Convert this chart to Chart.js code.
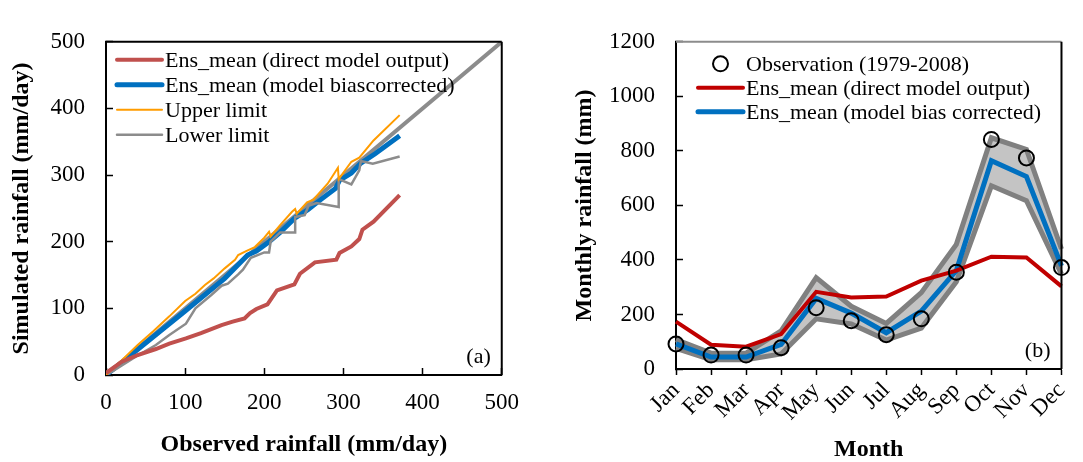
<!DOCTYPE html>
<html>
<head>
<meta charset="utf-8">
<script src="https://cdn.jsdelivr.net/npm/chart.js@4/dist/chart.umd.min.js"></script>
<style>
  html, body { margin: 0; padding: 0; background: #fff; }
  .panel { position: absolute; top: 0; height: 462px; }
</style>
</head>
<body>
<div class="panel" style="left:0;width:540px"><canvas id="qq" width="540" height="462"></canvas></div>
<div class="panel" style="left:540px;width:543px"><canvas id="monthly" width="543" height="462"></canvas></div>
<script>
// (a) quantiles, observed vs simulated (mm/day)
const redObs = [0, 20, 40, 63, 80, 101, 120, 146, 160, 175, 182, 190, 204, 216, 238, 245, 264, 291, 295, 310, 320, 324, 338, 371];
const redSim = [3, 20, 30, 39, 47, 55, 63, 75, 80, 85, 93, 99, 106, 127, 136, 152, 169, 173, 183, 193, 204, 218, 230, 270];
const blueObs = [0, 20, 50, 100, 150, 179, 190, 206, 220, 238, 255, 270, 290, 295, 310, 322, 340, 371];
const blueSim = [0, 19, 48, 96, 145, 180, 186, 200, 214, 235, 248, 262, 280, 292, 303, 318, 332, 359];
const upObs = [0, 10, 20, 40, 60, 80, 100, 113, 125, 136, 150, 163, 167, 177, 188, 200, 206, 208, 220, 235, 239, 241, 254, 262, 280, 293, 294, 310, 320, 338, 371];
const upSim = [0, 12, 22, 45, 66, 88, 111, 122, 135, 145, 160, 173, 180, 186, 192, 206, 215, 208, 225, 245, 249, 242, 259, 263, 287, 311, 294, 320, 326, 352, 390];
const lowObs = [0, 10, 34, 63, 80, 101, 113, 133, 146, 154, 167, 173, 183, 200, 206, 208, 220, 239, 239, 251, 256, 266, 294, 294, 310, 320, 322, 337, 371];
const lowSim = [0, 7, 25, 45, 60, 77, 100, 120, 134, 137, 151, 158, 176, 184, 184, 200, 214, 214, 237, 240, 254, 258, 252, 294, 286, 307, 321, 317, 328];
const oneToOne = [0, 500];
const qqTicks = [0, 100, 200, 300, 400, 500];

// (b) monthly rainfall (mm)
const months = ["Jan", "Feb", "Mar", "Apr", "May", "Jun", "Jul", "Aug", "Sep", "Oct", "Nov", "Dec"];
const observed = [92, 51, 51, 78, 225, 177, 126, 184, 355, 842, 774, 372];
const ensDirect = [174, 89, 82, 128, 283, 262, 266, 324, 361, 412, 409, 303];
const ensCorrected = [92, 44, 44, 90, 259, 205, 133, 212, 361, 764, 706, 378];
const bandUpper = [108, 58, 58, 140, 335, 230, 167, 280, 457, 848, 805, 440];
const bandLower = [76, 34, 34, 55, 184, 165, 106, 150, 320, 672, 617, 348];
const monthlyTicks = [0, 200, 400, 600, 800, 1000, 1200];

const serif = "'Liberation Serif', 'Times New Roman', serif";
Chart.defaults.font.family = serif;
Chart.defaults.color = "#000";

const pts = (xs, ys) => xs.map((x, i) => ({ x: x, y: ys[i] }));
const plain = (v) => String(v); // no thousands separator

// draws the frame, the in-plot legend and the panel tag
const panelDecor = {
  id: "panelDecor",
  afterDraw(chart, args, o) {
    const { ctx, chartArea: a } = chart;
    ctx.save();
    ctx.lineWidth = 2;
    ctx.strokeStyle = o.topColor;
    ctx.beginPath();
    ctx.moveTo(a.left, a.top);
    ctx.lineTo(a.right, a.top);
    ctx.stroke();
    ctx.strokeStyle = "#000";
    ctx.beginPath();
    ctx.moveTo(a.right, a.top);
    ctx.lineTo(a.right, a.bottom);
    ctx.stroke();

    ctx.font = "22px " + serif;
    ctx.textBaseline = "middle";
    ctx.textAlign = "left";
    ctx.fillStyle = "#000";
    let row = 0;
    chart.data.datasets.forEach((ds) => {
      if (!ds.label) return;
      const y = a.top + o.y0 + row * o.rowH;
      const x0 = a.left + o.x0;
      if (ds.showLine === false) {
        ctx.lineWidth = ds.pointBorderWidth;
        ctx.strokeStyle = ds.pointBorderColor;
        ctx.beginPath();
        ctx.arc(x0 + o.swatch / 2, y, ds.pointRadius, 0, Math.PI * 2);
        ctx.stroke();
      } else {
        ctx.lineWidth = ds.borderWidth;
        ctx.strokeStyle = ds.borderColor;
        ctx.lineCap = "round";
        ctx.beginPath();
        ctx.moveTo(x0, y);
        ctx.lineTo(x0 + o.swatch, y);
        ctx.stroke();
      }
      ctx.fillText(ds.label, x0 + o.swatch + o.gap, y + 1);
      row++;
    });

    ctx.textAlign = "right";
    ctx.fillText(o.tag, a.right - 11, a.bottom - 18);
    ctx.restore();
  },
};

const tickFont = { size: 23 };
const titleFont = { size: 24, weight: "bold", lineHeight: 1 };

new Chart(document.getElementById("qq"), {
  type: "scatter",
  plugins: [panelDecor],
  data: {
    datasets: [
      {
        label: "Ens_mean (direct model output)",
        data: pts(redObs, redSim),
        showLine: true,
        borderColor: "#c0504d",
        borderWidth: 4,
        pointRadius: 0,
        order: 0,
      },
      {
        label: "Ens_mean (model biascorrected)",
        data: pts(blueObs, blueSim),
        showLine: true,
        borderColor: "#0070c0",
        borderWidth: 5,
        pointRadius: 0,
        order: 3,
      },
      {
        label: "Upper limit",
        data: pts(upObs, upSim),
        showLine: true,
        borderColor: "#ff9c00",
        borderWidth: 2,
        pointRadius: 0,
        order: 1,
      },
      {
        label: "Lower limit",
        data: pts(lowObs, lowSim),
        showLine: true,
        borderColor: "#8c8c8c",
        borderWidth: 2.5,
        pointRadius: 0,
        order: 2,
      },
      {
        label: "",
        data: pts(oneToOne, oneToOne),
        showLine: true,
        borderColor: "#8c8c8c",
        borderWidth: 4,
        pointRadius: 0,
        order: 4,
      },
    ],
  },
  options: {
    responsive: false,
    animation: false,
    devicePixelRatio: 1,
    layout: { padding: { left: 0, right: 32, top: 20, bottom: 0 } },
    scales: {
      x: {
        type: "linear",
        min: 0,
        max: 500,
        afterBuildTicks: (s) => { s.ticks = qqTicks.map((v) => ({ value: v })); },
        afterFit: (s) => { s.height = 87; },
        border: { color: "#000", width: 2 },
        grid: { drawOnChartArea: false, tickLength: -7, color: "#000", tickWidth: 1.5 },
        ticks: { font: tickFont, padding: 21, maxRotation: 0, callback: plain },
        title: { display: true, text: "Observed rainfall (mm/day)", font: titleFont, padding: { top: 0, bottom: 5 } },
      },
      y: {
        type: "linear",
        min: 0,
        max: 500,
        afterBuildTicks: (s) => { s.ticks = qqTicks.map((v) => ({ value: v })); },
        afterFit: (s) => { s.width = 106; },
        border: { color: "#000", width: 2 },
        grid: { drawOnChartArea: false, tickLength: -7, color: "#000", tickWidth: 1.5 },
        ticks: { font: tickFont, padding: 28, callback: plain },
        title: { display: true, text: "Simulated rainfall (mm/day)", font: titleFont, padding: { top: 10, bottom: 0 } },
      },
    },
    plugins: {
      legend: { display: false },
      tooltip: { enabled: false },
      panelDecor: { topColor: "#000", x0: 11, y0: 18, rowH: 25, swatch: 45, gap: 3, tag: "(a)" },
    },
  },
});

new Chart(document.getElementById("monthly"), {
  type: "line",
  plugins: [panelDecor],
  data: {
    labels: months,
    datasets: [
      {
        label: "Observation (1979-2008)",
        data: observed,
        showLine: false,
        pointRadius: 7.5,
        pointBorderWidth: 2,
        pointBorderColor: "#000",
        pointBackgroundColor: "rgba(0,0,0,0)",
        clip: false,
      },
      {
        label: "Ens_mean (direct model output)",
        data: ensDirect,
        borderColor: "#c00000",
        borderWidth: 4,
        pointRadius: 0,
      },
      {
        label: "Ens_mean (model bias corrected)",
        data: ensCorrected,
        borderColor: "#0070c0",
        borderWidth: 5,
        pointRadius: 0,
      },
      {
        label: "",
        data: bandUpper,
        borderColor: "#808080",
        borderWidth: 5,
        backgroundColor: "#c4c4c4",
        fill: "+1",
        pointRadius: 0,
      },
      {
        label: "",
        data: bandLower,
        borderColor: "#808080",
        borderWidth: 5,
        pointRadius: 0,
      },
    ],
  },
  options: {
    responsive: false,
    animation: false,
    devicePixelRatio: 1,
    layout: { padding: { left: 0, right: 5, top: 17, bottom: 0 } },
    scales: {
      x: {
        offset: false,
        afterFit: (s) => { s.height = 93; },
        border: { color: "#000", width: 2 },
        grid: { drawOnChartArea: false, tickLength: 6, color: "#000", tickWidth: 1.5 },
        ticks: { font: tickFont, padding: 2, minRotation: 45, maxRotation: 45, autoSkip: false },
        title: { display: true, text: "Month", font: titleFont, padding: { top: 0, bottom: 0 } },
      },
      y: {
        min: 0,
        max: 1200,
        afterBuildTicks: (s) => { s.ticks = monthlyTicks.map((v) => ({ value: v })); },
        afterFit: (s) => { s.width = 136; },
        border: { color: "#000", width: 2 },
        grid: { drawOnChartArea: false, tickLength: -7, color: "#000", tickWidth: 1.5 },
        ticks: { font: tickFont, padding: 28, callback: plain },
        title: { display: true, text: "Monthly rainfall (mm)", font: titleFont, padding: { top: 33, bottom: 0 } },
      },
    },
    plugins: {
      legend: { display: false },
      tooltip: { enabled: false },
      filler: { drawTime: "beforeDatasetsDraw" },
      panelDecor: { topColor: "#8c8c8c", x0: 22, y0: 22, rowH: 24, swatch: 45, gap: 3, tag: "(b)" },
    },
  },
});
</script>
</body>
</html>
